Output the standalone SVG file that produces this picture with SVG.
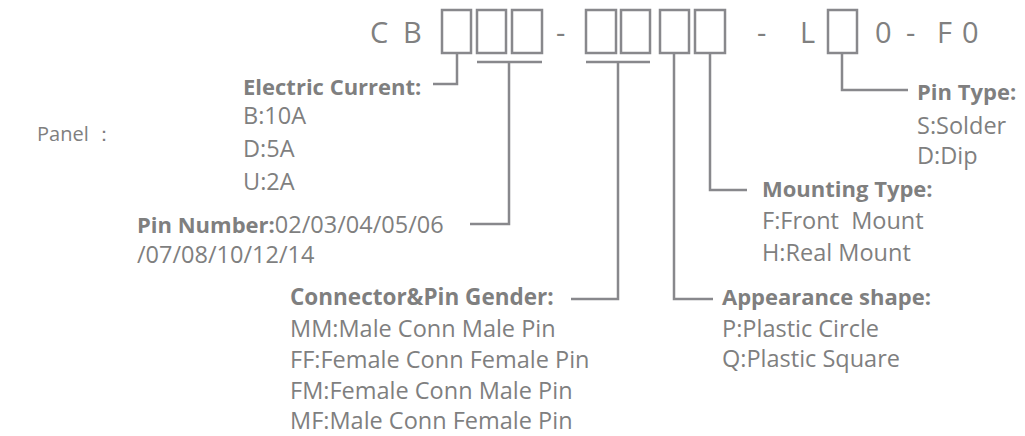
<svg xmlns="http://www.w3.org/2000/svg" width="1025" height="436" viewBox="0 0 1025 436">
<style>
text{font-family:"Open Sans","Noto Sans","Liberation Sans",sans-serif;fill:#7f7f7f;font-size:23.5px}
.code{font-size:29px;fill:#808080}
.b{font-weight:bold;font-size:22px}
.p{font-size:20px}
.box{fill:none;stroke:#88888c;stroke-width:2.5}
.ln{fill:none;stroke:#88888c;stroke-width:2.5}
</style>
<rect width="1025" height="436" fill="#ffffff"/>
<g id="code">
<text class="code" x="370 390 403" y="43">C B</text>
<rect class="box" x="442" y="10" width="29" height="43"/>
<rect class="box" x="477" y="10" width="29" height="43"/>
<rect class="box" x="512" y="10" width="30" height="43"/>
<text class="code" x="556" y="43">-</text>
<rect class="box" x="586" y="10" width="30" height="43"/>
<rect class="box" x="621" y="10" width="29" height="43"/>
<rect class="box" x="660" y="10" width="29" height="43"/>
<rect class="box" x="695" y="10" width="30" height="43"/>
<text class="code" x="757 780 800" y="43">- L</text>
<rect class="box" x="828" y="10" width="29" height="43"/>
<text class="code" x="875 893 906 922 937 954 962" y="43">0 - F 0</text>
</g>
<g id="panel"><text class="p" x="37" y="141">Panel ：</text></g>
<g id="electric-current">
<text class="b" x="243" y="95">Electric Current:</text>
<text x="243" y="124">B:10A</text>
<text x="243" y="157">D:5A</text>
<text x="243" y="190">U:2A</text>
</g>
<g id="pin-number">
<text x="137" y="233"><tspan class="b">Pin Number:</tspan>02/03/04/05/06</text>
<text x="137" y="263">/07/08/10/12/14</text>
</g>
<g id="gender">
<text class="b" x="290" y="305" style="font-size:22.5px">Connector&amp;Pin Gender:</text>
<text x="290" y="337">MM:Male Conn Male Pin</text>
<text x="290" y="368">FF:Female Conn Female Pin</text>
<text x="290" y="399">FM:Female Conn Male Pin</text>
<text x="290" y="429">MF:Male Conn Female Pin</text>
</g>
<g id="appearance">
<text class="b" x="722" y="305">Appearance shape:</text>
<text x="722" y="337">P:Plastic Circle</text>
<text x="722" y="367">Q:Plastic Square</text>
</g>
<g id="mounting">
<text class="b" x="762" y="197">Mounting Type:</text>
<text x="762" y="229" xml:space="preserve">F:Front  Mount</text>
<text x="762" y="261">H:Real Mount</text>
</g>
<g id="pin-type">
<text class="b" x="917" y="100">Pin Type:</text>
<text x="917" y="134">S:Solder</text>
<text x="917" y="164">D:Dip</text>
</g>
<g id="connectors">
<path class="ln" d="M457,53V84H433"/>
<path class="ln" d="M477,62H542M509,62V224H470"/>
<path class="ln" d="M586,62H650M618,62V299H571"/>
<path class="ln" d="M674,53V299H713"/>
<path class="ln" d="M710,53V190H747"/>
<path class="ln" d="M842,53V90H908"/>
</g>
</svg>
